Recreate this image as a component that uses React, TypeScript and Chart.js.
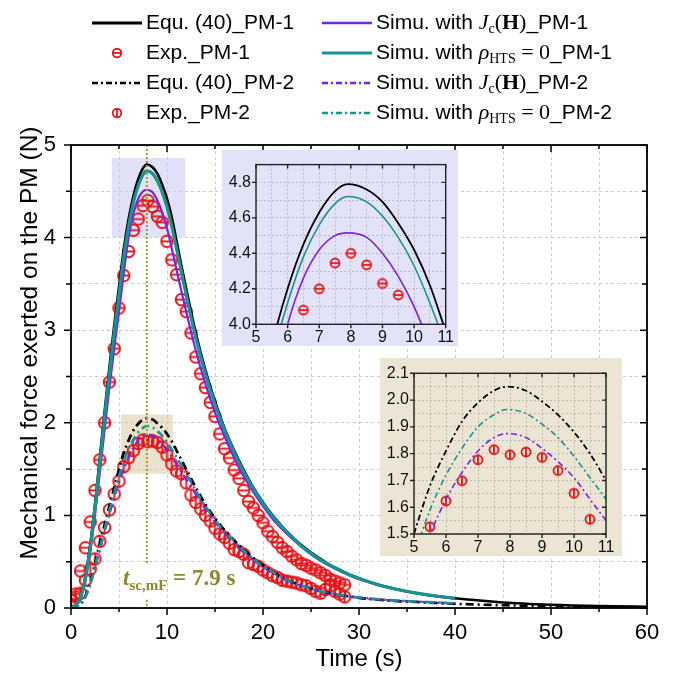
import React, { useEffect, useRef } from 'react';
import { Chart, registerables } from 'chart.js';

Chart.register(...registerables);

const SANS = "'Liberation Sans', Arial, Helvetica, sans-serif";
const SERIF = "'Liberation Serif', 'Times New Roman', serif";

const RED = '#e5161b';
const TEAL = '#18938e';
const PURPLE = '#7b22e8';
const BLACK = '#000000';
const OLIVE = '#a09b22';
const OLIVE_TEXT = '#8d8a2c';

// ---------- data ----------
const timeSim = [0, 0.5, 1, 1.5, 2, 2.5, 3, 3.5, 4, 4.5, 5, 5.5, 6, 6.5, 7, 7.5, 7.9, 8.5, 9, 9.5, 10, 10.5, 11, 11.5, 12,
  13, 14, 15, 16, 17, 18, 19, 20, 21, 22, 23, 24, 25, 26, 27, 28, 29, 30, 32, 34, 36, 38, 40];
const timeTail = [45, 50, 55, 60];

const equPM1 = [0, 0.03, 0.13, 0.34, 0.68, 1.12, 1.62, 2.12, 2.6, 3.05, 3.47, 3.88, 4.2, 4.45, 4.63, 4.75, 4.79, 4.76, 4.69, 4.57, 4.42, 4.22, 3.96, 3.7, 3.45,
  2.97, 2.57, 2.23, 1.94, 1.7, 1.49, 1.3, 1.14, 1.0, 0.88, 0.77, 0.68, 0.6, 0.53, 0.46, 0.41, 0.36, 0.32, 0.25, 0.2, 0.16, 0.13, 0.105];
const equPM1Tail = [0.06, 0.035, 0.02, 0.012];

const rhoPM1 = [0, 0.03, 0.12, 0.32, 0.65, 1.08, 1.57, 2.06, 2.53, 2.97, 3.38, 3.8, 4.12, 4.38, 4.56, 4.68, 4.72, 4.69, 4.61, 4.49, 4.33, 4.12, 3.88, 3.63, 3.38,
  2.92, 2.53, 2.2, 1.92, 1.68, 1.47, 1.29, 1.13, 0.99, 0.87, 0.77, 0.67, 0.59, 0.52, 0.46, 0.41, 0.36, 0.32, 0.25, 0.2, 0.16, 0.13, 0.105];

const jcPM1 = [0, 0.03, 0.11, 0.3, 0.6, 1.0, 1.46, 1.92, 2.38, 2.8, 3.2, 3.62, 4.0, 4.26, 4.42, 4.5, 4.515, 4.49, 4.4, 4.27, 4.1, 3.88, 3.65, 3.42, 3.2,
  2.78, 2.42, 2.11, 1.85, 1.62, 1.42, 1.25, 1.1, 0.96, 0.85, 0.75, 0.66, 0.58, 0.51, 0.45, 0.4, 0.35, 0.31, 0.25, 0.2, 0.16, 0.125, 0.1];

const equPM2 = [0, 0.01, 0.04, 0.13, 0.28, 0.48, 0.7, 0.9, 1.1, 1.3, 1.5, 1.68, 1.81, 1.92, 1.99, 2.035, 2.05, 2.035, 1.995, 1.945, 1.88, 1.8, 1.7, 1.6, 1.5,
  1.3, 1.12, 0.97, 0.84, 0.73, 0.63, 0.54, 0.46, 0.39, 0.33, 0.28, 0.24, 0.21, 0.18, 0.16, 0.14, 0.125, 0.11, 0.09, 0.075, 0.065, 0.055, 0.045];
const equPM2Tail = [0.03, 0.02, 0.013, 0.008];

const rhoPM2 = [0, 0.01, 0.04, 0.12, 0.26, 0.45, 0.65, 0.85, 1.05, 1.24, 1.42, 1.59, 1.72, 1.82, 1.9, 1.945, 1.965, 1.95, 1.91, 1.86, 1.79, 1.71, 1.63, 1.54, 1.45,
  1.27, 1.1, 0.95, 0.83, 0.72, 0.62, 0.53, 0.45, 0.39, 0.33, 0.28, 0.24, 0.21, 0.18, 0.16, 0.14, 0.125, 0.115, 0.095, 0.08, 0.07, 0.06, 0.05];

const jcPM2 = [0, 0.01, 0.04, 0.12, 0.25, 0.43, 0.62, 0.82, 1.01, 1.19, 1.36, 1.5, 1.63, 1.73, 1.81, 1.86, 1.875, 1.86, 1.82, 1.77, 1.71, 1.63, 1.55, 1.47, 1.39,
  1.23, 1.07, 0.93, 0.81, 0.7, 0.6, 0.52, 0.44, 0.38, 0.32, 0.28, 0.24, 0.21, 0.18, 0.16, 0.14, 0.125, 0.11, 0.09, 0.08, 0.07, 0.06, 0.05];

const timeExp = [0, 0.5, 1, 1.5, 2, 2.5, 3, 3.5, 4, 4.5, 5, 5.5, 6, 6.5, 7, 7.5, 8, 8.5, 9, 9.5, 10, 10.5, 11, 11.5, 12, 12.5, 13, 13.5, 14, 14.5,
  15, 15.5, 16, 16.5, 17, 17.5, 18, 18.5, 19, 19.5, 20, 20.5, 21, 21.5, 22, 22.5, 23, 23.5, 24, 24.5, 25, 25.5, 26, 26.5, 27, 27.5, 28, 28.5];

const expPM1 = [0.08, 0.15, 0.4, 0.65, 0.93, 1.27, 1.6, 2.0, 2.44, 2.8,
  3.24, 3.59, 3.85, 4.08, 4.2, 4.345, 4.4, 4.335, 4.23, 4.165,
  3.96, 3.76, 3.6, 3.33, 3.2, 2.97, 2.71, 2.53, 2.38, 2.22,
  2.07, 1.88, 1.72, 1.62, 1.49, 1.4, 1.27, 1.15, 1.08, 1.0,
  0.92, 0.83, 0.77, 0.71, 0.65, 0.61, 0.56, 0.52, 0.48, 0.46,
  0.43, 0.41, 0.38, 0.35, 0.31, 0.29, 0.27, 0.25];

const expPM2 = [0.03, 0.12, 0.16, 0.3, 0.42, 0.53, 0.72, 0.87, 1.06, 1.23,
  1.37, 1.527, 1.623, 1.699, 1.777, 1.815, 1.796, 1.806, 1.786, 1.737,
  1.652, 1.555, 1.48, 1.45, 1.35, 1.22, 1.14, 1.07, 1.0, 0.94,
  0.86, 0.8, 0.76, 0.7, 0.63, 0.61, 0.58, 0.49, 0.47, 0.45,
  0.41, 0.38, 0.35, 0.33, 0.3, 0.29, 0.28, 0.27, 0.25, 0.24,
  0.21, 0.18, 0.16, 0.2, 0.24, 0.18, 0.15, 0.12];

const tScMF = 7.9;

// ---------- helpers ----------
const xy = (t: number[], v: number[]) => t.map((x, i) => ({ x, y: v[i] }));

function makeMarker(d: number, lw: number, vertical: boolean): HTMLCanvasElement {
  const size = Math.ceil(d + lw * 2 + 1);
  const c = document.createElement('canvas');
  c.width = size;
  c.height = size;
  const g = c.getContext('2d')!;
  const r = d / 2;
  const cx = size / 2;
  g.strokeStyle = RED;
  g.lineWidth = lw;
  g.beginPath();
  g.arc(cx, cx, r, 0, Math.PI * 2);
  g.stroke();
  g.beginPath();
  if (vertical) {
    g.moveTo(cx, cx - r);
    g.lineTo(cx, cx + r);
  } else {
    g.moveTo(cx - r, cx);
    g.lineTo(cx + r, cx);
  }
  g.stroke();
  return c;
}

const DASHDOT = [8, 4, 2, 4];

function lineDs(data: { x: number; y: number }[], color: string, width: number, dash: number[], order: number) {
  return {
    data,
    borderColor: color,
    backgroundColor: color,
    borderWidth: width,
    borderDash: dash,
    pointRadius: 0,
    fill: false,
    cubicInterpolationMode: 'monotone' as const,
    order,
  };
}

function expDs(data: { x: number; y: number }[], marker: HTMLCanvasElement, order: number) {
  return {
    data,
    showLine: false,
    borderColor: RED,
    backgroundColor: RED,
    pointStyle: marker,
    pointRadius: 5,
    order,
  };
}

type Seg = { t: string; font: string; dy?: number };
function drawRich(ctx: CanvasRenderingContext2D, segs: Seg[], x: number, y: number) {
  let xx = x;
  for (const s of segs) {
    ctx.font = s.font;
    ctx.fillText(s.t, xx, y + (s.dy || 0));
    xx += ctx.measureText(s.t).width;
  }
}

function sample(ctx: CanvasRenderingContext2D, x0: number, x1: number, y: number, color: string, w: number, dash: number[]) {
  ctx.save();
  ctx.strokeStyle = color;
  ctx.lineWidth = w;
  ctx.setLineDash(dash);
  ctx.beginPath();
  ctx.moveTo(x0, y);
  ctx.lineTo(x1, y);
  ctx.stroke();
  ctx.restore();
}

// ---------- main chart ----------
function buildMain(canvas: HTMLCanvasElement) {
  const mH = makeMarker(11.5, 1.9, false);
  const mV = makeMarker(11.5, 1.9, true);
  const legH = makeMarker(8.5, 1.8, false);
  const legV = makeMarker(8.5, 1.8, true);

  const shade = {
    id: 'shade',
    beforeDatasetsDraw(chart: any) {
      const { ctx, scales: { x, y } } = chart;
      ctx.save();
      ctx.fillStyle = 'rgba(200,200,245,0.55)';
      const bx0 = x.getPixelForValue(4.25), bx1 = x.getPixelForValue(11.9);
      const by0 = y.getPixelForValue(4.86), by1 = y.getPixelForValue(4.0);
      ctx.fillRect(bx0, by0, bx1 - bx0, by1 - by0);
      ctx.fillStyle = 'rgba(215,198,158,0.5)';
      const tx0 = x.getPixelForValue(5.2), tx1 = x.getPixelForValue(10.6);
      const ty0 = y.getPixelForValue(2.09), ty1 = y.getPixelForValue(1.45);
      ctx.fillRect(tx0, ty0, tx1 - tx0, ty1 - ty0);
      ctx.restore();
    },
  };

  const marker = {
    id: 'marker',
    afterDatasetsDraw(chart: any) {
      const { ctx, scales: { x, y } } = chart;
      const px = x.getPixelForValue(tScMF);
      ctx.save();
      ctx.strokeStyle = OLIVE;
      ctx.lineWidth = 2;
      ctx.setLineDash([2, 2]);
      ctx.beginPath();
      ctx.moveTo(px, y.getPixelForValue(5));
      ctx.lineTo(px, y.getPixelForValue(0.47));
      ctx.moveTo(px, y.getPixelForValue(0.09));
      ctx.lineTo(px, y.getPixelForValue(0));
      ctx.stroke();
      ctx.setLineDash([]);
      ctx.fillStyle = OLIVE_TEXT;
      ctx.textBaseline = 'alphabetic';
      ctx.textAlign = 'left';
      drawRich(ctx, [
        { t: 't', font: `italic bold 23px ${SERIF}` },
        { t: 'sc,mF', font: `bold 15px ${SERIF}`, dy: 5 },
        { t: ' = 7.9 s', font: `bold 23px ${SERIF}` },
      ], 123, 585);
      ctx.restore();
    },
  };

  const frame = {
    id: 'frame',
    afterDraw(chart: any) {
      const { ctx, chartArea: { left, right, top, bottom }, scales: { x, y } } = chart;
      ctx.save();
      ctx.strokeStyle = '#000';
      ctx.lineWidth = 1.8;
      ctx.strokeRect(left, top, right - left, bottom - top);
      ctx.lineWidth = 1.5;
      ctx.beginPath();
      for (const t of x.ticks) {
        const px = x.getPixelForValue(t.value);
        const L = t.label !== '' ? 7 : 4;
        ctx.moveTo(px, bottom); ctx.lineTo(px, bottom + L);
        ctx.moveTo(px, top); ctx.lineTo(px, top + L);
      }
      for (const t of y.ticks) {
        const py = y.getPixelForValue(t.value);
        const L = t.label !== '' ? 7 : 5;
        ctx.moveTo(left - L, py); ctx.lineTo(left, py);
        ctx.moveTo(right - L, py); ctx.lineTo(right, py);
      }
      ctx.stroke();

      // y-axis title
      ctx.save();
      ctx.translate(30, 343);
      ctx.rotate(-Math.PI / 2);
      ctx.fillStyle = '#000';
      ctx.textAlign = 'center';
      ctx.textBaseline = 'middle';
      ctx.font = `24.5px ${SANS}`;
      ctx.fillText('Mechanical force exerted on the PM (N)', 0, 0);
      ctx.restore();

      // legend
      const rows = [23, 53, 83, 113];
      ctx.fillStyle = '#000';
      ctx.textBaseline = 'middle';
      ctx.textAlign = 'left';
      const F = `21px ${SANS}`;
      const FS = `22px ${SERIF}`;
      const FSI = `italic 22px ${SERIF}`;
      const FSB = `bold 22px ${SERIF}`;
      const FSUB = `14px ${SERIF}`;
      // column 1
      sample(ctx, 92, 142, rows[0], BLACK, 3, []);
      drawRich(ctx, [{ t: 'Equ. (40)_PM-1', font: F }], 146, rows[0]);
      ctx.drawImage(legH, 117 - legH.width / 2, rows[1] - legH.height / 2);
      drawRich(ctx, [{ t: 'Exp._PM-1', font: F }], 146, rows[1]);
      sample(ctx, 92, 142, rows[2], BLACK, 2.5, [6, 3, 2, 3]);
      drawRich(ctx, [{ t: 'Equ. (40)_PM-2', font: F }], 146, rows[2]);
      ctx.drawImage(legV, 117 - legV.width / 2, rows[3] - legV.height / 2);
      drawRich(ctx, [{ t: 'Exp._PM-2', font: F }], 146, rows[3]);
      // column 2
      sample(ctx, 322, 372, rows[0], PURPLE, 2.5, []);
      drawRich(ctx, [
        { t: 'Simu. with ', font: F },
        { t: 'J', font: FSI },
        { t: 'c', font: FSUB, dy: 6 },
        { t: '(', font: FS },
        { t: 'H', font: FSB },
        { t: ')', font: FS },
        { t: '_PM-1', font: F },
      ], 376, rows[0]);
      sample(ctx, 322, 372, rows[1], TEAL, 3, []);
      drawRich(ctx, [
        { t: 'Simu. with ', font: F },
        { t: 'ρ', font: FSI },
        { t: 'HTS', font: FSUB, dy: 6 },
        { t: ' = 0', font: FS },
        { t: '_PM-1', font: F },
      ], 376, rows[1]);
      sample(ctx, 322, 372, rows[2], PURPLE, 2.5, [6, 3, 2, 3]);
      drawRich(ctx, [
        { t: 'Simu. with ', font: F },
        { t: 'J', font: FSI },
        { t: 'c', font: FSUB, dy: 6 },
        { t: '(', font: FS },
        { t: 'H', font: FSB },
        { t: ')', font: FS },
        { t: '_PM-2', font: F },
      ], 376, rows[2]);
      sample(ctx, 322, 372, rows[3], TEAL, 2.5, [6, 3, 2, 3]);
      drawRich(ctx, [
        { t: 'Simu. with ', font: F },
        { t: 'ρ', font: FSI },
        { t: 'HTS', font: FSUB, dy: 6 },
        { t: ' = 0', font: FS },
        { t: '_PM-2', font: F },
      ], 376, rows[3]);
      ctx.restore();
    },
  };

  return new Chart(canvas, {
    type: 'line',
    data: {
      datasets: [
        expDs(xy(timeExp, expPM1), mH, 20),
        expDs(xy(timeExp, expPM2), mV, 20),
        lineDs(xy(timeSim.concat(timeTail), equPM2.concat(equPM2Tail)), BLACK, 2.7, DASHDOT, 9),
        lineDs(xy(timeSim, jcPM2), PURPLE, 2.3, DASHDOT, 8),
        lineDs(xy(timeSim, rhoPM2), TEAL, 2.6, DASHDOT, 7),
        lineDs(xy(timeSim.concat(timeTail), equPM1.concat(equPM1Tail)), BLACK, 2.6, [], 6),
        lineDs(xy(timeSim, jcPM1), PURPLE, 2.2, [], 5),
        lineDs(xy(timeSim, rhoPM1), TEAL, 3.2, [], 4),
      ] as any,
    },
    options: {
      responsive: false,
      animation: false,
      events: [],
      layout: { padding: { top: 145, right: 28, left: 0, bottom: 0 } },
      plugins: { legend: { display: false }, tooltip: { enabled: false } },
      scales: {
        x: {
          type: 'linear',
          min: 0,
          max: 60,
          afterFit: (s: any) => { s.height = 75; },
          ticks: {
            stepSize: 5,
            autoSkip: false,
            maxRotation: 0,
            padding: 12,
            color: '#000',
            font: { family: SANS, size: 22 },
            callback: (v: any) => (Number(v) % 10 === 0 ? String(v) : ''),
          },
          grid: { color: '#cccccc', lineWidth: 1, drawTicks: false },
          border: { display: false, dash: [3, 3] },
          title: { display: true, text: 'Time (s)', color: '#000', font: { family: SANS, size: 24 }, padding: { top: 0, bottom: 9 } },
        },
        y: {
          type: 'linear',
          min: 0,
          max: 5,
          afterFit: (s: any) => { s.width = 71; },
          ticks: {
            stepSize: 0.5,
            autoSkip: false,
            padding: 15,
            color: '#000',
            font: { family: SANS, size: 22 },
            callback: (v: any) => (Number.isInteger(Number(v)) ? String(v) : ''),
          },
          grid: { color: '#cccccc', lineWidth: 1, drawTicks: false },
          border: { display: false, dash: [3, 3] },
        },
      },
    } as any,
    plugins: [shade, marker, frame],
  });
}

// ---------- insets ----------
interface InsetOpts {
  bg: string;
  yMin: number;
  yMax: number;
  yGridStep: number;
  yLabelStep: number;
  yLabelMax: number;
  padTop: number;
  padRight: number;
  yWidth: number;
  xHeight: number;
  datasets: any[];
}

function buildInset(canvas: HTMLCanvasElement, o: InsetOpts) {
  const bgPlugin = {
    id: 'bg',
    beforeDraw(chart: any) {
      const { ctx, width, height } = chart;
      ctx.save();
      ctx.fillStyle = o.bg;
      ctx.fillRect(0, 0, width, height);
      ctx.restore();
    },
  };
  const framePlugin = {
    id: 'insetFrame',
    afterDraw(chart: any) {
      const { ctx, chartArea: { left, right, top, bottom }, scales: { x, y } } = chart;
      ctx.save();
      ctx.strokeStyle = '#222';
      ctx.lineWidth = 1.4;
      ctx.strokeRect(left, top, right - left, bottom - top);
      ctx.beginPath();
      for (const t of x.ticks) {
        if (t.label === '') continue;
        const px = x.getPixelForValue(t.value);
        ctx.moveTo(px, bottom); ctx.lineTo(px, bottom + 4);
        ctx.moveTo(px, top); ctx.lineTo(px, top + 4);
      }
      for (const t of y.ticks) {
        if (t.label === '') continue;
        const py = y.getPixelForValue(t.value);
        ctx.moveTo(left - 4, py); ctx.lineTo(left, py);
        ctx.moveTo(right - 4, py); ctx.lineTo(right, py);
      }
      ctx.stroke();
      ctx.restore();
    },
  };
  const isLabel = (v: number) => {
    const k = (v - o.yMin) / o.yLabelStep;
    return Math.abs(k - Math.round(k)) < 1e-6 && v <= o.yLabelMax + 1e-6;
  };
  return new Chart(canvas, {
    type: 'line',
    data: { datasets: o.datasets },
    options: {
      responsive: false,
      animation: false,
      events: [],
      layout: { padding: { top: o.padTop, right: o.padRight, left: 0, bottom: 0 } },
      plugins: { legend: { display: false }, tooltip: { enabled: false } },
      scales: {
        x: {
          type: 'linear',
          min: 5,
          max: 11,
          afterFit: (s: any) => { s.height = o.xHeight; },
          ticks: {
            stepSize: 0.5,
            autoSkip: false,
            maxRotation: 0,
            padding: 4,
            color: '#111',
            font: { family: SANS, size: 16 },
            callback: (v: any) => (Number.isInteger(Number(v)) ? String(v) : ''),
          },
          grid: { color: 'rgba(140,140,140,0.45)', lineWidth: 1, drawTicks: false },
          border: { display: false, dash: [2, 2] },
        },
        y: {
          type: 'linear',
          min: o.yMin,
          max: o.yMax,
          afterFit: (s: any) => { s.width = o.yWidth; },
          ticks: {
            stepSize: o.yGridStep,
            autoSkip: false,
            padding: 5,
            color: '#111',
            font: { family: SANS, size: 16 },
            callback: (v: any) => (isLabel(Number(v)) ? Number(v).toFixed(1) : ''),
          },
          grid: { color: 'rgba(140,140,140,0.45)', lineWidth: 1, drawTicks: false },
          border: { display: false, dash: [2, 2] },
        },
      },
    } as any,
    plugins: [bgPlugin, framePlugin],
  });
}

export default function App() {
  const mainRef = useRef<HTMLCanvasElement>(null);
  const in1Ref = useRef<HTMLCanvasElement>(null);
  const in2Ref = useRef<HTMLCanvasElement>(null);

  useEffect(() => {
    document.body.style.margin = '0';
    const mH = makeMarker(9, 1.8, false);
    const mV = makeMarker(9, 1.8, true);
    const charts: Chart[] = [];
    charts.push(buildMain(mainRef.current!));
    charts.push(buildInset(in1Ref.current!, {
      bg: '#e2e2f9',
      yMin: 4.0,
      yMax: 4.9,
      yGridStep: 0.1,
      yLabelStep: 0.2,
      yLabelMax: 4.8,
      padTop: 14.5,
      padRight: 10,
      yWidth: 34,
      xHeight: 21.7,
      datasets: [
        expDs(xy(timeExp, expPM1), mH, 20),
        lineDs(xy(timeSim, equPM1), BLACK, 1.8, [], 6),
        lineDs(xy(timeSim, jcPM1), PURPLE, 1.6, [], 5),
        lineDs(xy(timeSim, rhoPM1), TEAL, 1.6, [], 4),
      ],
    }));
    charts.push(buildInset(in2Ref.current!, {
      bg: '#ece5d3',
      yMin: 1.5,
      yMax: 2.1,
      yGridStep: 0.05,
      yLabelStep: 0.1,
      yLabelMax: 2.1,
      padTop: 15.3,
      padRight: 16,
      yWidth: 34,
      xHeight: 22,
      datasets: [
        expDs(xy(timeExp, expPM2), mV, 20),
        lineDs(xy(timeSim, equPM2), BLACK, 1.8, [6, 3, 2, 3], 6),
        lineDs(xy(timeSim, jcPM2), PURPLE, 1.6, [6, 3, 2, 3], 5),
        lineDs(xy(timeSim, rhoPM2), TEAL, 1.6, [6, 3, 2, 3], 4),
      ],
    }));
    return () => charts.forEach((c) => c.destroy());
  }, []);

  return (
    <div style={{ position: 'relative', width: 675, height: 683, overflow: 'hidden', background: '#fff' }}>
      <canvas ref={mainRef} width={675} height={683} style={{ position: 'absolute', left: 0, top: 0 }} />
      <canvas ref={in1Ref} width={236} height={196} style={{ position: 'absolute', left: 222, top: 150 }} />
      <canvas ref={in2Ref} width={242} height={198} style={{ position: 'absolute', left: 380, top: 358 }} />
    </div>
  );
}
